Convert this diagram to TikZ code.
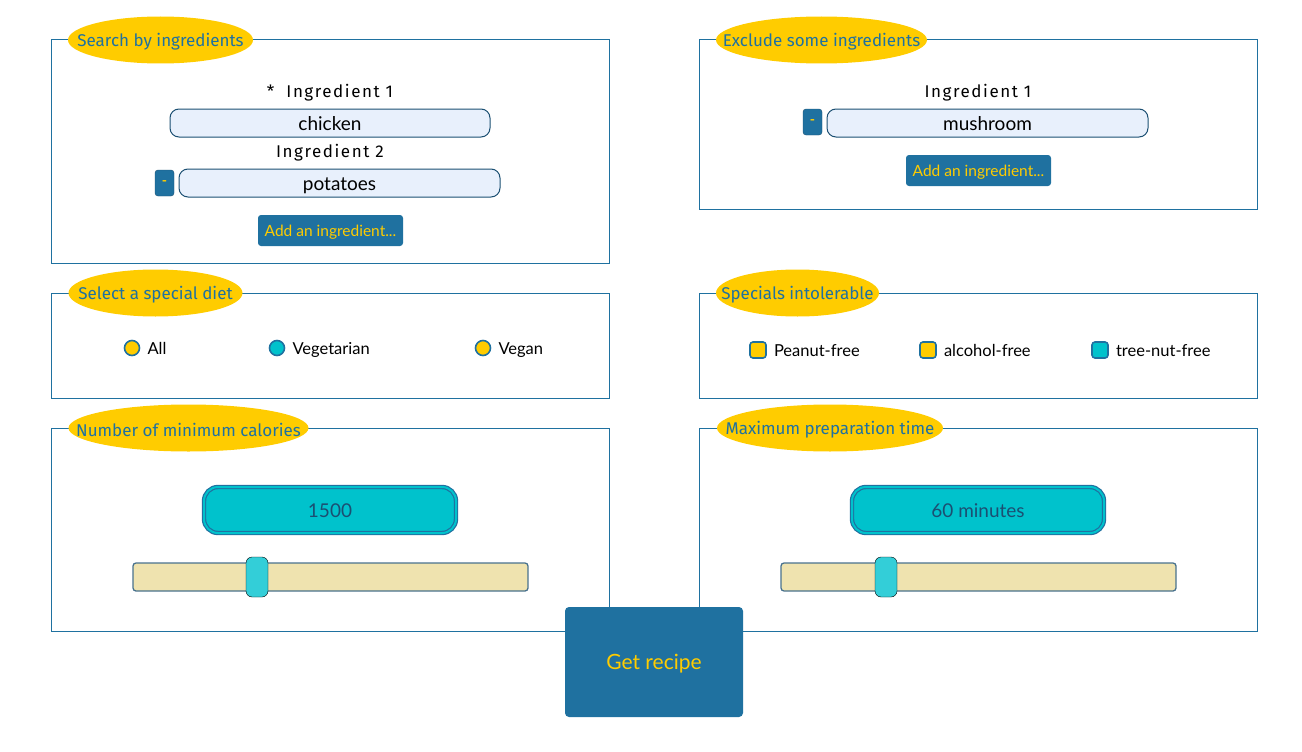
\documentclass[tikz,border=0pt]{standalone}
\usepackage{fontspec}
\setmainfont{Lato}
\newfontfamily\handfont{Fira Sans}
\newfontfamily\handspaced[LetterSpace=9]{Fira Sans}
\usetikzlibrary{shapes.geometric,positioning}
\definecolor{frameblue}{RGB}{31,113,160}
\definecolor{deepblue}{RGB}{27,79,114}
\definecolor{sunyellow}{RGB}{255,204,0}
\definecolor{tealfill}{RGB}{0,194,204}
\definecolor{thumbteal}{RGB}{51,206,216}
\definecolor{khaki}{RGB}{239,227,175}
\definecolor{inputfill}{RGB}{232,240,252}
\tikzset{
	panel/.style={draw=frameblue, line width=0.9pt},
	title/.style={inner sep=0pt, yshift=-2pt, text=frameblue, font=\handfont\fontsize{17}{19}\selectfont},
	hand/.style={font=\handspaced\fontsize{17}{19}\selectfont, inner sep=0pt},
	inbox/.style={draw=deepblue, line width=1pt, fill=inputfill, rounded corners=9, minimum height=28, text height=14, text depth=0, font=\fontsize{19}{21}\selectfont},
	minus/.style={draw=deepblue, fill=frameblue, rounded corners=3, minimum width=19, minimum height=26, inner sep=0pt, text=sunyellow, font=\bfseries\fontsize{14}{16}\selectfont},
	addbtn/.style={fill=frameblue, rounded corners=3, minimum width=145, minimum height=31, inner sep=0pt, text height=11, text depth=0, text=sunyellow, font=\fontsize{15.5}{17}\selectfont},
	radio/.style={circle, draw=frameblue, line width=1.6pt, minimum size=15, inner sep=0pt},
	tick/.style={draw=frameblue, line width=1.6pt, rounded corners=3, minimum size=16, inner sep=0pt},
	lbl/.style={inner sep=0pt, text height=12, text depth=0, font=\fontsize{16.5}{18}\selectfont},
	valbox/.style={draw=frameblue, double=tealfill, double distance=2pt, line width=1.2pt, fill=tealfill, rounded corners=14, minimum width=252, minimum height=46, text height=14, text depth=0, text=deepblue, font=\fontsize{19}{21}\selectfont},
	track/.style={draw=deepblue!80, line width=1.3pt, fill=khaki, rounded corners=3},
	thumb/.style={fill=thumbteal, rounded corners=6}
}
\newcommand{\pilltitle}[5]{%
	\fill[sunyellow] (#2,#3) ellipse [x radius=#4, y radius=23.5];
	\node[title] (#1) at (#2,#3) {#5};}
\begin{document}
\begin{tikzpicture}[x=1pt, y=-1pt]
	\useasboundingbox (0,0) rectangle (1302,752);

	\draw[panel] (51,39) rectangle (609,263);
	\draw[panel] (699,39) rectangle (1257,209);
	\draw[panel] (51,293) rectangle (609,398);
	\draw[panel] (699,293) rectangle (1257,398);
	\draw[panel] (51,428) rectangle (609,631);
	\draw[panel] (699,428) rectangle (1257,631);

	\pilltitle{searchTitle}{160.5}{40}{92.5}{Search by ingredients}
	\pilltitle{excludeTitle}{821.5}{40}{105.5}{Exclude some ingredients}
	\pilltitle{dietTitle}{155.5}{293}{87}{Select a special diet}
	\pilltitle{intolTitle}{797.5}{293}{81.5}{Specials intolerable}
	\pilltitle{calTitle}{188.5}{428}{120}{Number of minimum calories}
	\pilltitle{timeTitle}{830}{428}{113}{Maximum preparation time}

	% search by ingredients
	\node[hand] (ingOneLbl) at (330,93) {*\ \ Ingredient 1};
	\node[inbox, minimum width=320] (chicken) at (330,123) {chicken};
	\node[hand] (ingTwoLbl) at (330,153) {Ingredient 2};
	\node[minus] (minusTwo) at (164.5,183) {-};
	\node[inbox, minimum width=321] (potatoes) at (339.5,183) {potatoes};
	\node[addbtn] (addSearch) at (330.5,230.5) {Add an ingredient...};

	% exclude some ingredients
	\node[hand] (exOneLbl) at (978,93) {Ingredient 1};
	\node[minus] (minusEx) at (812.5,122) {-};
	\node[inbox, minimum width=321] (mushroom) at (987.5,123) {mushroom};
	\node[addbtn] (addExclude) at (978.5,170.5) {Add an ingredient...};

	% special diet
	\node[radio, fill=sunyellow] (rAll) at (132,348) {};
	\node[lbl, right=7pt of rAll] (lAll) {All};
	\node[radio, fill=tealfill] (rVeg) at (277,348) {};
	\node[lbl, right=7pt of rVeg] (lVeg) {Vegetarian};
	\node[radio, fill=sunyellow] (rVegan) at (483,348) {};
	\node[lbl, right=7pt of rVegan] (lVegan) {Vegan};

	% intolerances
	\node[tick, fill=sunyellow] (cPeanut) at (758,350) {};
	\node[lbl, right=7pt of cPeanut] (lPeanut) {Peanut-free};
	\node[tick, fill=sunyellow] (cAlcohol) at (928,350) {};
	\node[lbl, right=7pt of cAlcohol] (lAlcohol) {alcohol-free};
	\node[tick, fill=tealfill] (cNut) at (1100,350) {};
	\node[lbl, right=7pt of cNut] (lNut) {tree-nut-free};

	% calories
	\node[valbox] (calValue) at (330,510) {1500};
	\draw[track] (133,563) rectangle (528,591);
	\draw[thumb] (246,557) rectangle (268,597);

	% preparation time
	\node[valbox] (timeValue) at (978,510) {60 minutes};
	\draw[track] (781,563) rectangle (1176,591);
	\draw[thumb] (875,557) rectangle (897,597);

	\node[fill=frameblue, rounded corners=4, minimum width=178, minimum height=110, text height=15, text depth=0, text=sunyellow, font=\fontsize{21}{23}\selectfont] (getRecipe) at (654,662) {Get recipe};
\end{tikzpicture}
\end{document}
